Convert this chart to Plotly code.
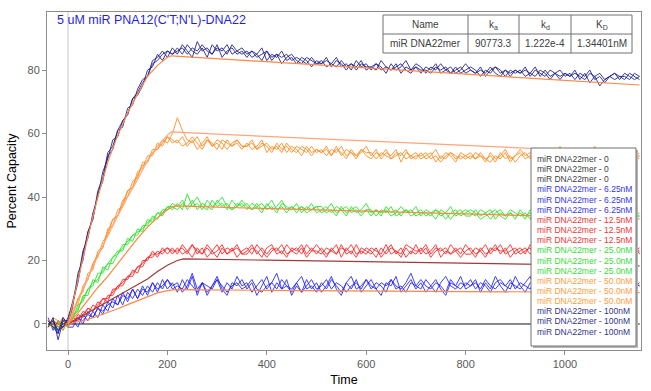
import plotly.graph_objects as go

# ---------------- data ----------------
TIME = list(range(-40, 1151, 10))

SERIES_NAME = "miR DNA22mer"
CONC_LABELS = ["0", "6.25nM", "12.5nM", "25.0nM", "50.0nM", "100nM"]

ZERO_TIME = [-40, 1150]
ZERO_REPS = [[0, 0], [0, 0], [0, 0]]

BLUE_REPS = [
    [2, -2, 1, -1, 0,
     1, -1, 3, 1, 4, 2, 6, 4, 8, 6, 10, 7, 11, 8, 12, 9, 13, 10, 14, 11, 13,
     10, 14, 11, 15, 9, 13, 10, 12, 15, 11, 9, 13, 12, 14,
     11, 13, 9, 12, 15, 10, 13, 11, 14, 9, 12, 10, 14, 11, 13,
     10, 12, 15, 11, 9, 13, 11, 14, 10, 12,
     14, 11, 9, 13, 12, 15, 10, 12, 14, 11,
     13, 10, 12, 14, 11, 9, 13, 12, 15, 11,
     12, 14, 10, 13, 11, 15, 12, 10, 13, 12,
     11, 13, 15, 10, 12, 14, 11, 13, 10, 12,
     14, 11, 13, 12, 15, 10, 12, 14, 11, 13,
     12, 15, 11, 13, 12],
    [-1, 1, -3, 2, -1,
     -1, 2, 0, 4, 2, 5, 3, 7, 5, 9, 6, 10, 8, 11, 9, 12, 10, 13, 11, 14, 12,
     13, 10, 12, 16, 11, 13, 9, 12, 14, 10, 13, 11, 15, 12,
     13, 10, 12, 14, 11, 13, 16, 11, 12, 10, 13, 15, 11, 12, 10,
     13, 11, 14, 12, 10, 13, 15, 11, 12, 14,
     11, 13, 12, 10, 14, 12, 11, 13, 16, 12,
     11, 14, 12, 10, 13, 15, 12, 11, 13, 12,
     14, 11, 13, 12, 10, 13, 14, 12, 11, 15,
     12, 10, 13, 12, 14, 11, 13, 15, 12, 11,
     13, 12, 10, 14, 12, 13, 11, 15, 12, 13,
     11, 13, 14, 12, 13],
    [0, 1, -1, 0, 1,
     0, 2, 1, 3, 2, 5, 4, 6, 7, 6, 9, 8, 11, 8, 11, 10, 13, 11, 12, 14, 11,
     12, 11, 14, 12, 10, 13, 12, 11, 14, 12, 10, 12, 13, 11,
     12, 14, 11, 10, 12, 13, 11, 14, 12, 11, 13, 10, 12, 14, 11,
     12, 14, 11, 13, 12, 10, 12, 13, 11, 14,
     12, 11, 13, 12, 14, 11, 12, 10, 13, 12,
     14, 12, 11, 13, 12, 10, 14, 12, 11, 13,
     12, 13, 11, 14, 12, 11, 13, 12, 14, 11,
     13, 12, 11, 14, 12, 13, 11, 12, 14, 12,
     11, 13, 12, 14, 11, 12, 13, 12, 14, 12,
     13, 12, 11, 13, 12],
]

RED_REPS = [
    [1, 0, -2, 1, -1,
     2, 1, 4, 3, 6, 5, 8, 7, 11, 11, 14, 14, 17, 16, 20, 20, 23, 21, 24, 22, 24,
     22, 25, 23, 21, 24, 22, 25, 23, 21, 24, 22, 24, 21, 23,
     24, 22, 25, 23, 21, 23, 24, 22, 25, 23, 22, 24, 21, 23, 25,
     23, 21, 24, 22, 25, 22, 23, 21, 24, 23,
     22, 24, 21, 23, 25, 22, 24, 21, 23, 22,
     24, 22, 23, 25, 21, 23, 22, 24, 22, 25,
     23, 21, 24, 22, 23, 25, 22, 24, 21, 23,
     24, 22, 25, 23, 22, 24, 21, 23, 25, 22,
     23, 25, 22, 24, 21, 23, 24, 22, 25, 23,
     22, 24, 23, 25, 22],
    [-1, 1, 0, -1, 1,
     0, 3, 2, 5, 4, 7, 6, 9, 9, 12, 12, 15, 15, 18, 18, 21, 21, 23, 22, 24, 22,
     24, 22, 23, 25, 22, 24, 21, 23, 25, 22, 24, 23, 25, 22,
     22, 24, 23, 21, 24, 25, 22, 23, 21, 24, 23, 25, 22, 24, 22,
     24, 22, 23, 25, 21, 24, 22, 25, 22, 24,
     23, 21, 24, 22, 24, 23, 21, 24, 22, 25,
     22, 24, 21, 23, 24, 22, 25, 23, 21, 23,
     24, 22, 23, 21, 24, 23, 25, 22, 23, 24,
     22, 23, 24, 21, 24, 22, 23, 25, 22, 24,
     22, 24, 23, 21, 25, 22, 23, 24, 22, 24,
     24, 22, 25, 23, 24],
    [0, -1, 1, 0, 0,
     1, 2, 3, 5, 4, 6, 8, 8, 10, 12, 13, 15, 16, 18, 19, 21, 22, 22, 23, 24, 23,
     23, 24, 22, 25, 23, 22, 24, 22, 23, 25, 22, 23, 24, 22,
     23, 25, 22, 24, 22, 24, 23, 25, 22, 23, 24, 22, 25, 23, 23,
     22, 24, 23, 22, 24, 23, 25, 22, 23, 22,
     24, 23, 22, 25, 22, 23, 22, 25, 24, 23,
     23, 25, 22, 24, 23, 24, 22, 23, 24, 22,
     22, 24, 23, 25, 22, 24, 23, 23, 25, 22,
     23, 24, 22, 24, 23, 25, 22, 24, 23, 23,
     24, 22, 24, 23, 22, 25, 23, 22, 24, 22,
     23, 25, 22, 24, 23],
]

GREEN_REPS = [
    [1, -1, 0, -2, 1,
     2, 6, 7, 11, 12, 16, 16, 19, 21, 22, 25, 25, 28, 28, 31, 31, 34, 33, 36, 36, 38,
     37, 39, 36, 38, 40, 37, 36, 39, 37, 38, 36, 39, 37, 38,
     36, 38, 37, 35, 38, 36, 37, 39, 36, 37, 35, 37, 36, 38, 35,
     36, 37, 35, 37, 36, 34, 37, 35, 36, 38,
     35, 36, 34, 37, 35, 36, 34, 36, 35, 37,
     34, 36, 35, 33, 36, 35, 37, 34, 35, 36,
     35, 34, 36, 35, 33, 35, 36, 34, 35, 33,
     36, 34, 35, 33, 35, 34, 36, 33, 35, 34,
     33, 35, 34, 36, 33, 35, 34, 32, 35, 34,
     35, 33, 34, 35, 34],
    [-1, 1, -2, 1, 0,
     3, 4, 9, 9, 14, 13, 18, 17, 21, 23, 23, 27, 26, 30, 29, 33, 32, 35, 34, 37, 36,
     38, 36, 41, 37, 38, 36, 39, 37, 38, 40, 37, 36, 38, 37,
     38, 36, 37, 38, 36, 37, 35, 38, 37, 36, 38, 35, 37, 36, 37,
     35, 36, 38, 35, 36, 37, 35, 36, 34, 36,
     36, 34, 36, 35, 37, 34, 35, 36, 34, 35,
     36, 34, 35, 36, 34, 35, 33, 35, 36, 34,
     34, 36, 34, 35, 36, 33, 35, 34, 36, 35,
     34, 35, 33, 36, 34, 35, 33, 35, 34, 36,
     35, 33, 35, 34, 33, 36, 34, 35, 33, 35,
     34, 35, 33, 34, 35],
    [0, -1, 1, 0, -1,
     2, 5, 8, 11, 13, 14, 17, 19, 19, 22, 24, 26, 28, 29, 30, 32, 33, 35, 35, 37, 37,
     36, 38, 37, 39, 36, 38, 37, 36, 39, 37, 38, 36, 37, 39,
     37, 36, 38, 36, 37, 39, 36, 37, 35, 37, 36, 37, 35, 36, 37,
     37, 35, 36, 34, 37, 35, 36, 37, 35, 36,
     34, 36, 35, 36, 34, 35, 37, 35, 36, 34,
     35, 35, 34, 36, 35, 33, 35, 36, 34, 35,
     36, 35, 33, 34, 35, 36, 34, 33, 35, 34,
     35, 33, 36, 34, 35, 33, 34, 36, 34, 33,
     34, 36, 33, 35, 34, 34, 33, 36, 34, 33,
     35, 34, 35, 33, 34],
]

ORANGE_REPS = [
    [1, -1, 0, 2, -1,
     3, 8, 10, 16, 17, 23, 24, 30, 31, 36, 37, 42, 43, 48, 49, 53, 53, 57, 56, 59, 58,
     57, 59, 56, 58, 55, 57, 59, 56, 57, 55, 58, 56, 57, 55,
     57, 55, 56, 58, 54, 56, 55, 57, 54, 56, 55, 53, 56, 54, 55,
     54, 56, 53, 55, 54, 52, 55, 53, 54, 56,
     53, 55, 52, 54, 53, 55, 51, 54, 53, 52,
     54, 52, 53, 55, 52, 54, 53, 51, 54, 53,
     52, 54, 53, 51, 54, 52, 53, 55, 52, 53,
     55, 53, 54, 52, 54, 55, 53, 54, 52, 54,
     53, 55, 52, 54, 53, 56, 52, 55, 53, 54,
     52, 54, 53, 51, 53],
    [-1, 2, 1, -2, 1,
     5, 6, 12, 14, 19, 21, 26, 28, 33, 34, 39, 40, 45, 46, 51, 51, 55, 55, 58, 57, 60,
     65, 61, 58, 57, 59, 56, 58, 57, 55, 58, 57, 56, 58, 56,
     56, 57, 55, 57, 56, 54, 57, 55, 56, 54, 56, 55, 54, 56, 54,
     55, 53, 55, 54, 56, 53, 54, 52, 55, 54,
     54, 52, 54, 53, 52, 54, 53, 55, 52, 53,
     53, 54, 52, 53, 51, 53, 54, 52, 53, 52,
     53, 52, 54, 52, 53, 51, 54, 52, 53, 51,
     53, 54, 52, 55, 53, 52, 54, 53, 56, 53,
     54, 52, 55, 53, 51, 54, 53, 52, 54, 50,
     54, 53, 52, 54, 53],
    [0, 1, -1, 1, 0,
     4, 8, 11, 14, 19, 22, 24, 29, 33, 34, 38, 42, 43, 47, 50, 51, 54, 55, 57, 59, 57,
     58, 56, 57, 59, 57, 55, 58, 56, 58, 57, 55, 57, 58, 56,
     56, 58, 55, 56, 57, 55, 56, 54, 57, 55, 54, 56, 55, 53, 55,
     54, 55, 53, 56, 53, 55, 54, 53, 55, 53,
     52, 54, 53, 55, 52, 53, 54, 52, 53, 54,
     52, 53, 54, 51, 53, 52, 54, 53, 52, 53,
     54, 52, 53, 52, 51, 53, 52, 54, 51, 53,
     54, 52, 53, 54, 53, 55, 52, 53, 54, 53,
     53, 54, 53, 52, 55, 52, 53, 54, 52, 53,
     53, 52, 54, 53, 52],
]

NAVY_REPS = [
    [1, -1, -3, 2, 0,
     6, 16, 20, 29, 33, 42, 46, 54, 56, 61, 62, 68, 69, 74, 77, 78, 83, 84, 86, 84, 87,
     85, 88, 86, 84, 89, 86, 87, 85, 88, 84, 86, 87, 85, 86,
     84, 86, 85, 83, 86, 84, 85, 82, 84, 85, 83, 82, 84, 83, 82,
     83, 81, 82, 84, 81, 82, 80, 83, 81, 82,
     80, 82, 81, 79, 82, 80, 81, 83, 80, 81,
     79, 81, 80, 82, 79, 80, 81, 79, 80, 82,
     80, 79, 81, 78, 80, 81, 79, 80, 78, 80,
     79, 81, 78, 80, 79, 78, 80, 79, 77, 79,
     78, 80, 77, 79, 76, 78, 79, 77, 78, 79,
     77, 79, 78, 77, 78],
    [-1, 2, -5, 1, 1,
     8, 14, 23, 27, 35, 40, 48, 52, 58, 59, 64, 66, 71, 72, 75, 80, 81, 85, 83, 86, 85,
     87, 85, 88, 86, 85, 87, 84, 88, 86, 87, 85, 88, 86, 85,
     86, 84, 85, 87, 83, 85, 84, 86, 83, 84, 82, 84, 83, 81, 83,
     82, 84, 81, 83, 82, 80, 82, 81, 83, 80,
     81, 80, 83, 81, 80, 82, 79, 81, 80, 82,
     81, 79, 81, 80, 82, 80, 79, 81, 79, 80,
     81, 80, 78, 80, 79, 81, 80, 78, 80, 79,
     80, 78, 79, 81, 78, 80, 78, 79, 80, 78,
     79, 77, 79, 78, 80, 77, 78, 76, 78, 79,
     78, 77, 79, 78, 77],
    [0, 1, -2, -1, 2,
     7, 13, 22, 29, 33, 41, 45, 53, 55, 61, 64, 66, 71, 73, 76, 78, 82, 83, 85, 86, 85,
     86, 87, 85, 87, 86, 88, 86, 85, 87, 86, 88, 85, 86, 87,
     85, 86, 84, 85, 86, 83, 85, 84, 85, 83, 84, 83, 82, 84, 82,
     82, 83, 82, 81, 83, 81, 82, 80, 82, 81,
     81, 82, 80, 81, 80, 81, 82, 80, 79, 81,
     80, 80, 79, 81, 80, 81, 79, 80, 81, 79,
     80, 79, 80, 79, 81, 79, 78, 80, 79, 80,
     79, 80, 79, 78, 80, 79, 77, 79, 78, 79,
     78, 79, 78, 77, 79, 78, 75, 77, 78, 77,
     78, 78, 77, 79, 78],
]

# fitted curves (association then dissociation)
FIT_BLUE_T = [0, 20, 40, 60, 80, 100, 120, 140, 160, 180, 200, 215, 400, 600, 800, 1000, 1150]
FIT_BLUE_V = [0, 0.6, 1.4, 2.5, 3.6, 4.8, 6.1, 7.4, 8.7, 9.8, 10.5, 10.8, 10.6, 10.4, 10.2, 10.0, 9.9]
FIT_RED_T = [0, 20, 40, 60, 80, 100, 120, 140, 160, 180, 200, 220, 232, 400, 600, 800, 1000, 1150]
FIT_RED_V = [0, 1.8, 3.6, 5.4, 7.2, 9.0, 10.8, 12.5, 14.2, 16.5, 18.5, 20.0, 20.5, 20.1, 19.6, 19.1, 18.6, 18.3]
FIT_GREEN_T = [0, 20, 40, 60, 80, 100, 120, 140, 160, 180, 200, 215, 300, 400, 500, 600, 700, 800, 900, 1000, 1100, 1150]
FIT_GREEN_V = [0, 3.5, 7.5, 11.5, 15, 19, 23, 27, 30.5, 33.5, 36, 37.2, 36.8, 36.4, 35.9, 35.5, 35.1, 34.6, 34.2, 33.8, 33.4, 33.1]
FIT_ORANGE_T = [0, 20, 40, 60, 80, 100, 120, 140, 160, 180, 200, 208, 300, 400, 500, 600, 700, 800, 900, 1000, 1100, 1150]
FIT_ORANGE_V = [0, 7.5, 14.5, 21.5, 28, 34, 40, 45.5, 51.5, 56, 59.5, 60.5, 59.8, 59.1, 58.4, 57.7, 57.0, 56.3, 55.5, 54.9, 54.2, 53.8]
FIT_NAVY_T = [0, 20, 40, 60, 80, 100, 120, 140, 160, 180, 200, 208, 300, 400, 500, 600, 700, 800, 900, 1000, 1100, 1150]
FIT_NAVY_V = [0, 14, 27.5, 40, 51, 59.5, 66.5, 72.5, 78, 81.5, 84, 84.5, 83.6, 82.5, 81.5, 80.5, 79.5, 78.6, 77.6, 76.7, 75.8, 75.3]

TABLE_HEADER = ["Name", "k<sub>a</sub>", "k<sub>d</sub>", "K<sub>D</sub>"]
TABLE_ROW = ["miR DNA22mer", "90773.3", "1.222e-4", "1.34401nM"]

TITLE = "5 uM miR PNA12(C'T;N'L)-DNA22"
X_TICKS = [0, 200, 400, 600, 800, 1000]
Y_TICKS = [0, 20, 40, 60, 80]

# ---------------- styling ----------------
TRACE_COLORS = ["#6e6e6e", "#2020ff", "#ff2020", "#22e622", "#ff8a1a", "#1c1c8e"]
LEGEND_COLORS = ["#404040", "#3434f2", "#f23434", "#36dc36", "#ff9c3a", "#32328f"]
FIT_COLORS = ["#ff8844", "#a03a3a", "#ff8844", "#ffa67a", "#ff8844"]
FONT = "Liberation Sans, Arial, sans-serif"

W, H = 651, 391
L, R, T, B = 47, 641, 12, 350


def px(x):
    return (x - L) / (R - L)


def py(y):
    return (B - y) / (B - T)


fig = go.Figure()

all_reps = [(ZERO_TIME, ZERO_REPS), (TIME, BLUE_REPS), (TIME, RED_REPS),
            (TIME, GREEN_REPS), (TIME, ORANGE_REPS), (TIME, NAVY_REPS)]
for ci, (tt, reps) in enumerate(all_reps):
    for rep in reps:
        fig.add_trace(go.Scatter(
            x=tt[:len(rep)], y=rep, mode="lines",
            line=dict(color=TRACE_COLORS[ci], width=1),
            opacity=0.85, showlegend=False, hoverinfo="skip"))

fits = [(FIT_BLUE_T, FIT_BLUE_V), (FIT_RED_T, FIT_RED_V), (FIT_GREEN_T, FIT_GREEN_V),
        (FIT_ORANGE_T, FIT_ORANGE_V), (FIT_NAVY_T, FIT_NAVY_V)]
for fi, (ft, fv) in enumerate(fits):
    fig.add_trace(go.Scatter(
        x=ft, y=fv, mode="lines", line=dict(color=FIT_COLORS[fi], width=1.2),
        showlegend=False, hoverinfo="skip"))

shapes = []
# vertical marker at t = 0
shapes.append(dict(type="line", xref="x", yref="paper", x0=0, x1=0, y0=0, y1=1,
                   line=dict(color="#c8c8c8", width=1), layer="below"))
# legend box with shadow
shapes.append(dict(type="rect", xref="paper", yref="paper",
                   x0=px(533), x1=px(638), y0=py(348), y1=py(150),
                   fillcolor="#b4b4b4", line=dict(width=0), layer="above"))
shapes.append(dict(type="rect", xref="paper", yref="paper",
                   x0=px(531), x1=px(636), y0=py(346), y1=py(148),
                   fillcolor="white", line=dict(color="#707070", width=1), layer="above"))
# table
tx = [383, 468, 519, 571, 632]
ty = [15, 34, 53]
shapes.append(dict(type="rect", xref="paper", yref="paper",
                   x0=px(tx[0]), x1=px(tx[-1]), y0=py(ty[-1]), y1=py(ty[0]),
                   fillcolor="white", line=dict(color="#707070", width=1), layer="above"))
shapes.append(dict(type="line", xref="paper", yref="paper",
                   x0=px(tx[0]), x1=px(tx[-1]), y0=py(ty[1]), y1=py(ty[1]),
                   line=dict(color="#707070", width=1), layer="above"))
for xx in tx[1:-1]:
    shapes.append(dict(type="line", xref="paper", yref="paper",
                       x0=px(xx), x1=px(xx), y0=py(ty[-1]), y1=py(ty[0]),
                       line=dict(color="#707070", width=1), layer="above"))

annotations = []
annotations.append(dict(text=TITLE, xref="paper", yref="paper", x=px(55), y=py(20.5),
                        xanchor="left", yanchor="middle", showarrow=False,
                        font=dict(family=FONT, size=12.5, color="#1f1fe6")))
for j in range(4):
    cx = (tx[j] + tx[j + 1]) / 2
    annotations.append(dict(text=TABLE_HEADER[j], xref="paper", yref="paper", x=px(cx),
                            y=py((ty[0] + ty[1]) / 2), xanchor="center", yanchor="middle",
                            showarrow=False, font=dict(family=FONT, size=10, color="#404040")))
    annotations.append(dict(text=TABLE_ROW[j], xref="paper", yref="paper", x=px(cx),
                            y=py((ty[1] + ty[2]) / 2), xanchor="center", yanchor="middle",
                            showarrow=False, font=dict(family=FONT, size=10, color="#404040")))
row = 0
for ci, lab in enumerate(CONC_LABELS):
    for k in range(3):
        annotations.append(dict(text=f"{SERIES_NAME} - {lab}", xref="paper", yref="paper",
                                x=px(535), y=py(159 + row * 10.15), xanchor="left",
                                yanchor="middle", showarrow=False,
                                font=dict(family=FONT, size=8.5, color=LEGEND_COLORS[ci])))
        row += 1

fig.update_layout(
    width=W, height=H, autosize=False,
    margin=dict(l=L, r=W - R, t=T, b=H - B),
    paper_bgcolor="white", plot_bgcolor="white",
    showlegend=False, shapes=shapes, annotations=annotations,
    font=dict(family=FONT),
)
axis_common = dict(showgrid=False, zeroline=False, showline=True, mirror=True,
                   linecolor="#8c8c8c", linewidth=1, ticks="outside", ticklen=4,
                   tickcolor="#8c8c8c", automargin=False,
                   tickfont=dict(family=FONT, size=11, color="#5a5a5a"))
fig.update_xaxes(range=[-42.3, 1153], tickvals=X_TICKS, **axis_common,
                 title=dict(text="Time", font=dict(family=FONT, size=12.5, color="black"),
                            standoff=6))
fig.update_yaxes(range=[-8.2, 98.3], tickvals=Y_TICKS, **axis_common,
                 title=dict(text="Percent Capacity",
                            font=dict(family=FONT, size=12.5, color="black"), standoff=8))

fig.write_html("out.html", config={"displayModeBar": False},
               post_script="document.body.style.margin='0';document.body.style.padding='0';")
